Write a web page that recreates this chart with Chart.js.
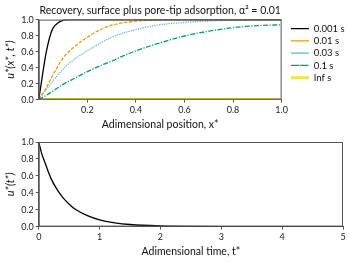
<!DOCTYPE html>
<html>
<head>
<meta charset="utf-8">
<script src="https://cdn.jsdelivr.net/npm/chart.js@4.4.1/dist/chart.umd.min.js"></script>
<style>
  html, body { margin: 0; padding: 0; background: #fff; }
  #wrap { position: relative; width: 349px; height: 262px; }
  #topChart { position: absolute; left: 0; top: 0; }
  #bottomChart { position: absolute; left: 0; top: 131px; }
</style>
</head>
<body>
<div id="wrap">
  <canvas id="topChart" width="349" height="131"></canvas>
  <canvas id="bottomChart" width="349" height="131"></canvas>
</div>
<script>
// Perfiles espaciales
const seriesLabels = ['0.001 s', '0.01 s', '0.03 s', '0.1 s', 'Inf s'];

const xFast = [0, 0.01, 0.02, 0.03, 0.04, 0.05, 0.06, 0.08, 0.1, 0.12, 0.15, 0.2, 0.4, 0.6, 0.8, 1.0];
const uFast = [0, 0.2, 0.4, 0.58, 0.72, 0.83, 0.9, 0.96, 0.99, 1.0, 1.0, 1.0, 1.0, 1.0, 1.0, 1.0];

const xMid = [0, 0.025, 0.05, 0.075, 0.1, 0.15, 0.2, 0.25, 0.3, 0.4, 0.5, 0.6, 0.8, 1.0];
const uMid = [0, 0.12, 0.26, 0.4, 0.52, 0.67, 0.78, 0.87, 0.93, 0.98, 0.995, 1.0, 1.0, 1.0];

const xSlow = [0, 0.05, 0.1, 0.15, 0.2, 0.25, 0.3, 0.4, 0.5, 0.6, 0.7, 0.8, 0.9, 1.0];
const uSlow = [0, 0.2, 0.38, 0.51, 0.61, 0.7, 0.78, 0.875, 0.935, 0.965, 0.983, 0.992, 0.997, 1.0];

const xLate = [0, 0.05, 0.1, 0.15, 0.2, 0.25, 0.3, 0.35, 0.4, 0.5, 0.6, 0.7, 0.8, 0.9, 1.0];
const uLate = [0, 0.09, 0.19, 0.27, 0.35, 0.42, 0.48, 0.55, 0.61, 0.71, 0.795, 0.855, 0.9, 0.925, 0.935];

const xInf = [0, 1.0];
const uInf = [0, 0];

// Decaimiento temporal
const tValues = [0, 0.05, 0.1, 0.2, 0.3, 0.4, 0.5, 0.6, 0.8, 1.0, 1.25, 1.5, 2.0, 2.5, 3, 4, 5];
const uTime = [1.0, 0.86, 0.76, 0.57, 0.44, 0.34, 0.265, 0.205, 0.13, 0.08, 0.045, 0.025, 0.008, 0.002, 0, 0, 0];

const xTicks = [0.2, 0.4, 0.6, 0.8, 1.0];
const yTicks = [0, 0.2, 0.4, 0.6, 0.8, 1.0];
const tTicks = [0, 1, 2, 3, 4, 5];

const FONT = 'Lato';
Chart.defaults.font.family = FONT;
Chart.defaults.font.size = 9;
Chart.defaults.color = '#222';

function toPoints(xs, ys) {
    return xs.map((x, i) => ({ x: x, y: ys[i] }));
}

// Marco completo alrededor del area del grafico
const frame = {
    id: 'frame',
    afterDatasetsDraw(chart) {
        const a = chart.chartArea;
        const ctx = chart.ctx;
        ctx.save();
        ctx.strokeStyle = '#555';
        ctx.lineWidth = 1;
        ctx.strokeRect(a.left + 0.5, a.top + 0.5, a.right - a.left - 1, a.bottom - a.top - 1);
        ctx.restore();
    }
};

// Separar la leyenda del area del grafico
const legendGap = {
    id: 'legendGap',
    afterLayout(chart) {
        const lg = chart.legend;
        if (!lg) return;
        lg.left += 6.5;
        lg.right += 6.5;
        lg.top += 17;
    }
};

function lineDs(label, xs, ys, color, dash, width) {
    return {
        label: label,
        data: toPoints(xs, ys),
        borderColor: color,
        backgroundColor: color,
        borderDash: dash,
        borderWidth: width,
        pointRadius: 0,
        cubicInterpolationMode: 'monotone',
        fill: false
    };
}

function axisGrid() {
    return { display: true, drawOnChartArea: false, drawTicks: true, tickLength: 3, color: '#555' };
}

new Chart(document.getElementById('topChart'), {
    type: 'line',
    data: {
        datasets: [
            lineDs(seriesLabels[0], xFast, uFast, '#000000', [], 1.3),
            lineDs(seriesLabels[1], xMid, uMid, '#E69F00', [3.5, 1.5], 1.3),
            lineDs(seriesLabels[2], xSlow, uSlow, '#56B4E9', [1.2, 1.2], 1.3),
            lineDs(seriesLabels[3], xLate, uLate, '#009E73', [5, 1.5, 1.2, 1.5], 1.3),
            lineDs(seriesLabels[4], xInf, uInf, '#F0E442', [], 3)
        ]
    },
    options: {
        responsive: false,
        animation: false,
        layout: { padding: { top: 4, right: 1, left: 2, bottom: 0 } },
        plugins: {
            title: {
                display: true,
                fullSize: false,
                text: 'Recovery, surface plus pore-tip adsorption, α² = 0.01',
                font: { size: 10.5, weight: 'normal' },
                color: '#111',
                padding: { top: 0, bottom: 3 }
            },
            legend: {
                position: 'right',
                align: 'start',
                labels: {
                    boxWidth: 18,
                    boxHeight: 0,
                    padding: 2.8,
                    color: '#111',
                    font: { size: 9.5 }
                }
            },
            tooltip: { enabled: false }
        },
        scales: {
            x: {
                type: 'linear',
                min: 0,
                max: 1,
                afterBuildTicks: axis => { axis.ticks = xTicks.map(v => ({ value: v })); },
                ticks: { callback: v => v.toFixed(1), maxRotation: 0, padding: 2 },
                grid: axisGrid(),
                border: { color: '#555' },
                title: { display: true, text: 'Adimensional position, x*', font: { size: 10.5 }, color: '#111', padding: { top: 1, bottom: 0 } }
            },
            y: {
                min: 0,
                max: 1,
                afterBuildTicks: axis => { axis.ticks = yTicks.map(v => ({ value: v })); },
                ticks: { callback: v => v.toFixed(1), padding: 2 },
                grid: axisGrid(),
                border: { color: '#555' },
                title: { display: true, text: 'u*(x*, t*)', font: { size: 11, style: 'italic' }, color: '#111', padding: 2 }
            }
        }
    },
    plugins: [frame, legendGap]
});

new Chart(document.getElementById('bottomChart'), {
    type: 'line',
    data: {
        datasets: [
            lineDs('u(t)', tValues, uTime, '#000000', [], 1.3)
        ]
    },
    options: {
        responsive: false,
        animation: false,
        layout: { padding: { top: 11, right: 6, left: 2, bottom: 4 } },
        plugins: {
            legend: { display: false },
            tooltip: { enabled: false }
        },
        scales: {
            x: {
                type: 'linear',
                min: 0,
                max: 5,
                afterBuildTicks: axis => { axis.ticks = tTicks.map(v => ({ value: v })); },
                ticks: { maxRotation: 0, padding: 2 },
                grid: axisGrid(),
                border: { color: '#555' },
                title: { display: true, text: 'Adimensional time, t*', font: { size: 10.5 }, color: '#111', padding: { top: 1, bottom: 0 } }
            },
            y: {
                min: 0,
                max: 1,
                afterBuildTicks: axis => { axis.ticks = yTicks.map(v => ({ value: v })); },
                ticks: { callback: v => v.toFixed(1), padding: 2 },
                grid: axisGrid(),
                border: { color: '#555' },
                title: { display: true, text: 'u*(t*)', font: { size: 11, style: 'italic' }, color: '#111', padding: 2 }
            }
        }
    },
    plugins: [frame]
});
</script>
</body>
</html>
